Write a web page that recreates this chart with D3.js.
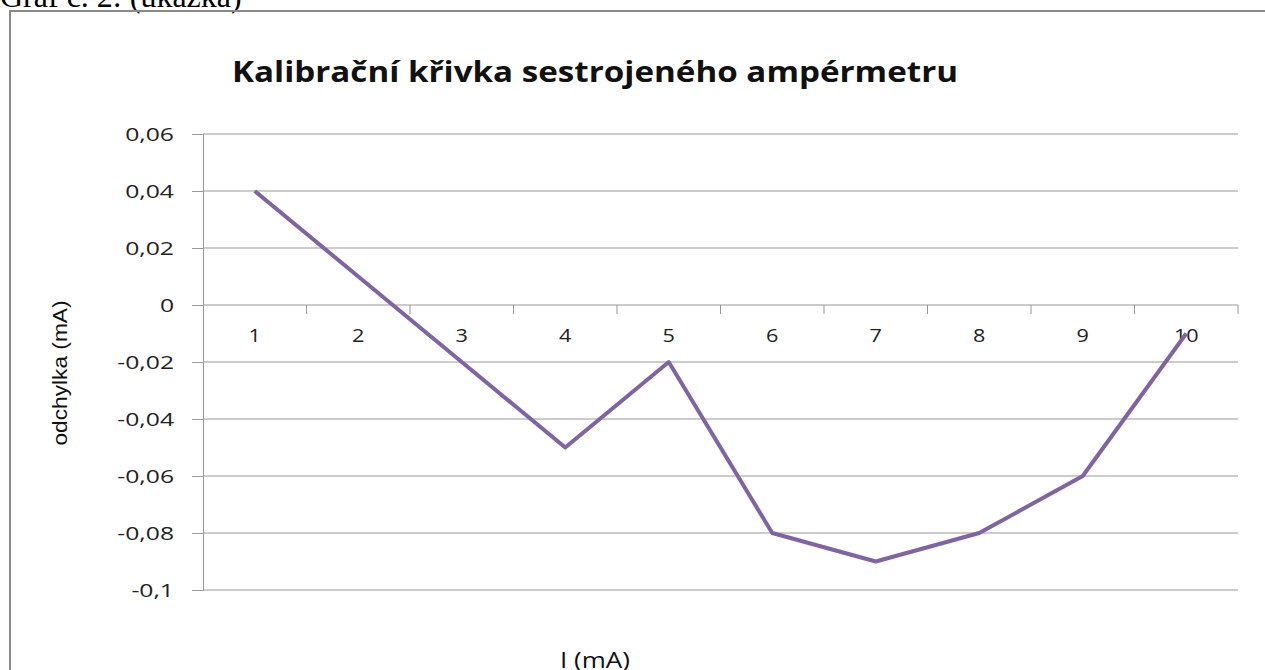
<!DOCTYPE html>
<html lang="cs">
<head>
    <meta charset="UTF-8">
    <title>Kalibrační křivka</title>
    <script src="https://d3js.org/d3.v7.min.js"></script>
    <style>
        body { margin: 0; background: #fff; }
        svg { display: block; }
    </style>
</head>
<body>
    <div id="chart"></div>
    <script>
        const categories = ["1", "2", "3", "4", "5", "6", "7", "8", "9", "10"];
        const odchylka = [0.04, 0.01, -0.02, -0.05, -0.02, -0.08, -0.09, -0.08, -0.06, -0.01];
        const yTicks = [0.06, 0.04, 0.02, 0, -0.02, -0.04, -0.06, -0.08, -0.1];

        const W = 1265, H = 670;
        const plot = { left: 203, right: 1238, top: 134, bottom: 590 };

        const svg = d3.select("#chart").append("svg")
            .attr("width", W).attr("height", H);

        // the source image is a bit wider than tall, so stretch text horizontally
        function stretch(sel, k) {
            sel.each(function () {
                const w = this.getComputedTextLength();
                d3.select(this).attr("textLength", w * k).attr("lengthAdjust", "spacingAndGlyphs");
            });
        }

        // caption above the frame (cut off at the top in the source)
        svg.append("text")
            .attr("x", 0).attr("y", 7)
            .style("font-family", "'Liberation Serif', serif")
            .style("font-size", "32px")
            .text("Graf č. 2: (ukázka)");

        // frame
        svg.append("rect")
            .attr("x", 10).attr("y", 11)
            .attr("width", 1270).attr("height", 700)
            .attr("fill", "none")
            .attr("stroke", "#8a8a8a")
            .attr("stroke-width", 2);

        svg.append("text")
            .attr("x", 595).attr("y", 82)
            .attr("text-anchor", "middle")
            .style("font-family", "'Open Sans', sans-serif")
            .style("font-weight", "bold")
            .style("font-size", "29px")
            .attr("fill", "#111")
            .attr("textLength", 726)
            .attr("lengthAdjust", "spacingAndGlyphs")
            .text("Kalibrační křivka sestrojeného ampérmetru");

        const x = d3.scaleBand()
            .domain(categories)
            .range([plot.left, plot.right]);

        const y = d3.scaleLinear()
            .domain([-0.1, 0.06])
            .range([plot.bottom, plot.top]);

        const fmt = v => String(Math.round(v * 100) / 100).replace(".", ",");

        // y axis + gridlines
        const yAxis = svg.append("g")
            .attr("transform", `translate(${plot.left},0)`)
            .call(d3.axisLeft(y).tickValues(yTicks).tickFormat(fmt).tickSize(11).tickPadding(18));
        yAxis.select(".domain").attr("stroke", "#999");
        yAxis.selectAll(".tick line").attr("stroke", "#999");
        yAxis.selectAll(".tick text")
            .attr("font-family", "'Open Sans', sans-serif")
            .attr("font-size", 19)
            .attr("fill", "#222")
            .attr("dy", "0.36em")
            .call(stretch, 1.3);

        svg.append("g")
            .selectAll("line")
            .data(yTicks)
            .join("line")
            .attr("x1", plot.left).attr("x2", plot.right)
            .attr("y1", d => y(d)).attr("y2", d => y(d))
            .attr("stroke", "#999");

        // category axis sits on zero
        const xAxis = svg.append("g")
            .attr("transform", `translate(0,${y(0)})`)
            .call(d3.axisBottom(x).tickSize(0).tickPadding(24));
        xAxis.select(".domain").remove();
        xAxis.selectAll(".tick text")
            .attr("font-family", "'Open Sans', sans-serif")
            .attr("font-size", 18)
            .attr("fill", "#222")
            .call(stretch, 1.2);

        svg.append("g")
            .selectAll("line")
            .data(categories)
            .join("line")
            .attr("x1", d => x(d) + x.bandwidth())
            .attr("x2", d => x(d) + x.bandwidth())
            .attr("y1", y(0)).attr("y2", y(0) + 9)
            .attr("stroke", "#999");

        const line = d3.line()
            .x((d, i) => x(categories[i]) + x.bandwidth() / 2)
            .y(d => y(d));

        svg.append("path")
            .datum(odchylka)
            .attr("d", line)
            .attr("fill", "none")
            .attr("stroke", "#8064a2")
            .attr("stroke-width", 4)
            .attr("stroke-linejoin", "round");

        // axis titles
        svg.append("text")
            .attr("transform", "translate(67,373) rotate(-90)")
            .attr("text-anchor", "middle")
            .style("font-family", "'Liberation Sans', sans-serif")
            .style("font-size", "21px")
            .attr("fill", "#111")
            .attr("textLength", 145)
            .attr("lengthAdjust", "spacingAndGlyphs")
            .text("odchylka (mA)");

        svg.append("text")
            .attr("x", 595).attr("y", 668)
            .attr("text-anchor", "middle")
            .style("font-family", "'Open Sans', sans-serif")
            .style("font-size", "21px")
            .attr("fill", "#111")
            .attr("textLength", 70)
            .attr("lengthAdjust", "spacingAndGlyphs")
            .text("I (mA)");
    </script>
</body>
</html>
